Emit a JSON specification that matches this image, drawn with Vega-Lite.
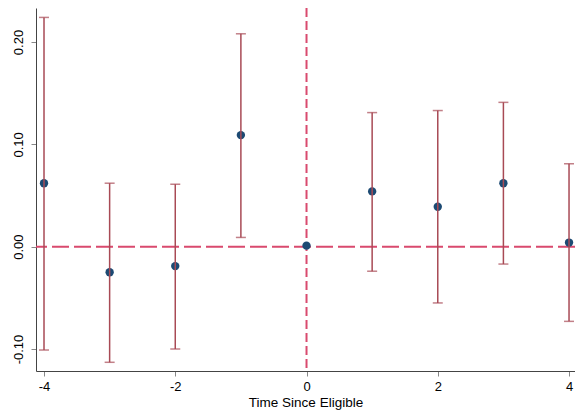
{
  "$schema": "https://vega.github.io/schema/vega-lite/v6.json",
  "width": 539,
  "height": 363,
  "autosize": {"type": "none"},
  "padding": {"left": 36, "top": 8, "right": 0, "bottom": 48},
  "background": "white",
  "config": {
    "view": {"stroke": null},
    "font": "Liberation Sans",
    "axis": {"grid": false, "domainColor": "#444", "tickColor": "#888", "tickSize": 5, "labelColor": "#000", "titleColor": "#000", "labelFont": "Liberation Sans", "titleFont": "Liberation Sans", "labelFontSize": 13, "titleFontSize": 13.5, "titleFontWeight": "normal"}
  },
  "data": {
    "values": [
      {"t": -4, "est": 0.062, "lo": -0.101, "hi": 0.224},
      {"t": -3, "est": -0.025, "lo": -0.113, "hi": 0.062},
      {"t": -2, "est": -0.019, "lo": -0.100, "hi": 0.061},
      {"t": -1, "est": 0.109, "lo": 0.009, "hi": 0.208},
      {"t": 0, "est": 0.001, "lo": 0.001, "hi": 0.001},
      {"t": 1, "est": 0.054, "lo": -0.024, "hi": 0.131},
      {"t": 2, "est": 0.039, "lo": -0.055, "hi": 0.133},
      {"t": 3, "est": 0.062, "lo": -0.017, "hi": 0.141},
      {"t": 4, "est": 0.004, "lo": -0.073, "hi": 0.081}
    ]
  },
  "encoding": {
    "x": {"field": "t", "type": "quantitative",
      "scale": {"domain": [-4.122, 4.091], "nice": false, "zero": false},
      "axis": {"values": [-4, -2, 0, 2, 4], "format": "d", "labelExpr": "replace(datum.label, '\u2212', '-')", "title": "Time Since Eligible", "labelPadding": 4, "titlePadding": 2}}
  },
  "layer": [
    {
      "data": {"values": [{"z": 0}]},
      "mark": {"type": "rule", "color": "#d94a6e", "strokeWidth": 2, "strokeDash": [17, 5]},
      "encoding": {"y": {"field": "z", "type": "quantitative"}, "x": null}
    },
    {
      "data": {"values": [{"z": 0}]},
      "mark": {"type": "rule", "color": "#d94a6e", "strokeWidth": 2, "strokeDash": [9, 4]},
      "encoding": {"x": {"field": "z", "type": "quantitative"}}
    },
    {
      "mark": {"type": "point", "filled": true, "color": "#1c4a73", "opacity": 1, "size": 70},
      "encoding": {
        "y": {"field": "est", "type": "quantitative",
          "scale": {"domain": [-0.1215, 0.2332], "nice": false, "zero": false},
          "axis": {"values": [-0.1, 0, 0.1, 0.2], "format": ".2f", "labelExpr": "replace(datum.label, '\u2212', '-')", "title": null, "labelAngle": -90, "labelAlign": "center", "labelBaseline": "bottom", "labelPadding": 6}}
      }
    },
    {
      "transform": [{"filter": "datum.t != 0"}],
      "mark": {"type": "rule", "color": "#a84a55", "strokeWidth": 1.5},
      "encoding": {"y": {"field": "lo", "type": "quantitative"}, "y2": {"field": "hi"}}
    },
    {
      "transform": [{"filter": "datum.t != 0"}],
      "mark": {"type": "tick", "color": "#a84a55", "orient": "horizontal", "size": 10, "thickness": 1.5},
      "encoding": {"y": {"field": "lo", "type": "quantitative"}}
    },
    {
      "transform": [{"filter": "datum.t != 0"}],
      "mark": {"type": "tick", "color": "#a84a55", "orient": "horizontal", "size": 10, "thickness": 1.5},
      "encoding": {"y": {"field": "hi", "type": "quantitative"}}
    }
  ]
}
